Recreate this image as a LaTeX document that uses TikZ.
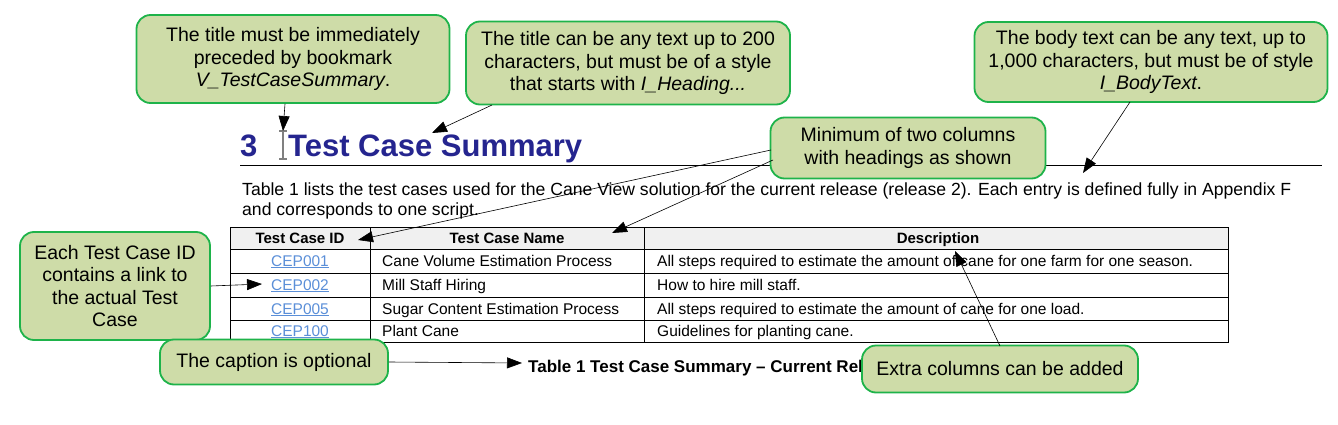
\documentclass[tikz,border=0pt]{standalone}
\usepackage{fontspec}
\setmainfont{Liberation Sans}
\usetikzlibrary{arrows.meta}
\definecolor{cfill}{HTML}{CEDCA8}
\definecolor{cline}{HTML}{1EB34A}
\definecolor{headblue}{HTML}{25258F}
\definecolor{linkblue}{HTML}{5B8FD8}
\begin{document}
\begin{tikzpicture}[x=1pt,y=-1pt,
  callout/.style={draw=cline,line width=1.8pt,fill=cfill,rounded corners=14pt,align=center,font=\fontsize{19.5}{22.5}\selectfont,inner sep=0pt},
  arr/.style={-{Triangle[length=15pt,width=11pt]},line width=0.6pt},
  tcell/.style={font=\fontsize{15.5}{16}\selectfont,anchor=base west,inner sep=0},
  link/.style={font=\fontsize{15.5}{16}\selectfont,text=linkblue,anchor=base,inner sep=0}]
\useasboundingbox (0,0) rectangle (1338,425);
% heading
\node[anchor=base west,text=headblue,font=\bfseries\fontsize{31}{32}\selectfont,inner sep=0] (num) at (240,157) {3};
\node[anchor=base west,text=headblue,font=\bfseries\fontsize{31}{32}\selectfont,inner sep=0] (title) at (288,157) {Test Case Summary};
\draw[gray,line width=1.5pt] (283,131) -- (283,159) (279,131) -- (287,131) (279,159) -- (287,159);
\coordinate (cur) at (283,131);
\coordinate (ttl) at (432,133);
\draw[line width=1pt] (240,165) -- (1322,165);
\node[anchor=base west,inner sep=0,font=\fontsize{17.6}{18}\selectfont] (b1) at (242,195) {Table 1 lists the test cases used for the Cane View solution for the current release (release 2). Each entry is defined fully in Appendix F};
\node[anchor=base west,inner sep=0,font=\fontsize{17.6}{18}\selectfont] (b2) at (242,215) {and corresponds to one script.};
\coordinate (ent) at (1083,173);
% table
\fill[gray!12] (230,227) rectangle (1228,249);
\draw[line width=1pt] (230,227) rectangle (1228,342);
\foreach \y in {249,273,297,320} \draw[line width=1pt] (230,\y) -- (1228,\y);
\draw[line width=1pt] (370,227) -- (370,342) (644,227) -- (644,342);
\node[font=\bfseries\fontsize{15}{16}\selectfont,anchor=base,inner sep=0] (h1) at (300,243) {Test Case ID};
\node[font=\bfseries\fontsize{15}{16}\selectfont,anchor=base,inner sep=0] (h2) at (507,243) {Test Case Name};
\node[font=\bfseries\fontsize{15}{16}\selectfont,anchor=base,inner sep=0] (h3) at (938,243) {Description};
\node[link] (l1) at (300,266) {\underline{CEP001}};
\node[link] (l2) at (300,290) {\underline{CEP002}};
\node[link] (l3) at (300,314) {\underline{CEP005}};
\node[link] (l4) at (300,336) {\underline{CEP100}};
\node[tcell] (n1) at (382,266) {Cane Volume Estimation Process};
\node[tcell] (n2) at (382,290) {Mill Staff Hiring};
\node[tcell] (n3) at (382,314) {Sugar Content Estimation Process};
\node[tcell] (n4) at (382,336) {Plant Cane};
\node[tcell] (d1) at (657,266) {All steps required to estimate the amount of cane for one farm for one season.};
\node[tcell] (d2) at (657,290) {How to hire mill staff.};
\node[tcell] (d3) at (657,314) {All steps required to estimate the amount of cane for one load.};
\node[tcell] (d4) at (657,336) {Guidelines for planting cane.};
\node[anchor=base west,inner sep=0,font=\bfseries\fontsize{17}{18}\selectfont] (cap) at (528,372) {Table 1 Test Case Summary – Current Release};
\coordinate (hid) at (358,240);
\coordinate (hname) at (612,233);
\coordinate (lk) at (262,284);
\coordinate (capt) at (522,363);
\coordinate (desc) at (955,251);
% callouts
\node[callout,minimum width=313pt,minimum height=88pt] (c1) at (293,59) {The title must be immediately\\preceded by bookmark\\\textit{V\_TestCaseSummary}.};
\node[callout,minimum width=324pt,minimum height=83pt] (c2) at (628,63) {The title can be any text up to 200\\characters, but must be of a style\\that starts with \textit{I\_Heading...}};
\node[callout,minimum width=353pt,minimum height=80pt] (c3) at (1151,62) {The body text can be any text, up to\\1,000 characters, but must be of style\\\textit{I\_BodyText}.};
\node[callout,minimum width=275pt,minimum height=61pt] (c4) at (908,148) {Minimum of two columns\\with headings as shown};
\node[callout,minimum width=190pt,minimum height=108pt] (c5) at (115,286) {Each Test Case ID\\contains a link to\\the actual Test\\Case};
\node[callout,minimum width=228pt,minimum height=45pt] (c6) at (274,362) {The caption is optional};
\node[callout,minimum width=276pt,minimum height=47pt] (c7) at (1000,369) {Extra columns can be added};
% arrows
\draw[arr] (c1.south) ++(-8,0) -- (cur);
\draw[arr] (492,105) -- (ttl);
\draw[arr] (1130,102) -- (ent);
\draw[arr] (771,150) -- (hid);
\draw[arr] (773,160) -- (hname);
\draw[arr] (c5.east) -- (lk);
\draw[arr] (c6.east) -- (capt);
\draw[arr] (1000,346) -- (desc);
\end{tikzpicture}
\end{document}
